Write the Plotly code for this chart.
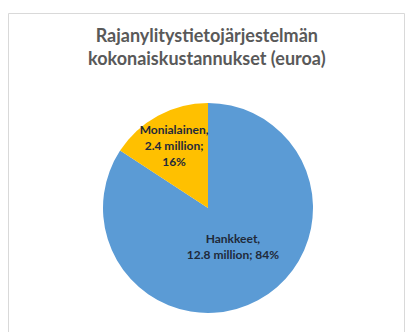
import plotly.graph_objects as go

# Total costs of the border-crossing information system, in million euros
categories = ["Hankkeet", "Monialainen"]
values_million = [12.8, 2.4]
colors = ["#5B9BD5", "#FFC000"]
title_lines = ["Rajanylitystietojärjestelmän", "kokonaiskustannukset (euroa)"]

W, H = 406, 332

fig = go.Figure(
    go.Pie(
        labels=categories,
        values=values_million,
        sort=False,
        direction="clockwise",
        rotation=0,
        marker=dict(colors=colors, line=dict(width=0)),
        # a trailing blank line lifts the large slice's label a little
        texttemplate=["%{label},<br>%{value} million; %{percent:.0%}<br>&nbsp;",
                      "%{label},<br>%{value} million;<br>%{percent:.0%}"],
        textposition="inside",
        insidetextorientation="horizontal",
        textfont=dict(family="Lato", size=12, color="#1F2A3A", weight="bold"),
        hoverinfo="label+value+percent",
        showlegend=False,
        domain=dict(x=[103 / W, 313 / W], y=[1 - 313 / H, 1 - 103 / H]),
    )
)

fig.update_layout(
    width=W,
    height=H,
    margin=dict(l=0, r=0, t=0, b=0),
    paper_bgcolor="white",
    plot_bgcolor="white",
    uniformtext=dict(minsize=12, mode="show"),
    shapes=[
        dict(type="rect", xref="paper", yref="paper",
             x0=8.5 / W, x1=404.5 / W, y0=-0.05, y1=1 - 13.5 / H,
             line=dict(color="#D9D9D9", width=1), fillcolor="rgba(0,0,0,0)")
    ],
    annotations=[
        dict(text="<br>".join(title_lines), xref="paper", yref="paper",
             x=207 / W, y=1 - 22 / H, xanchor="center", yanchor="top",
             showarrow=False, align="center",
             font=dict(family="Lato", size=18, color="#595959", weight="bold"))
    ],
)

fig.write_html("out.html")
